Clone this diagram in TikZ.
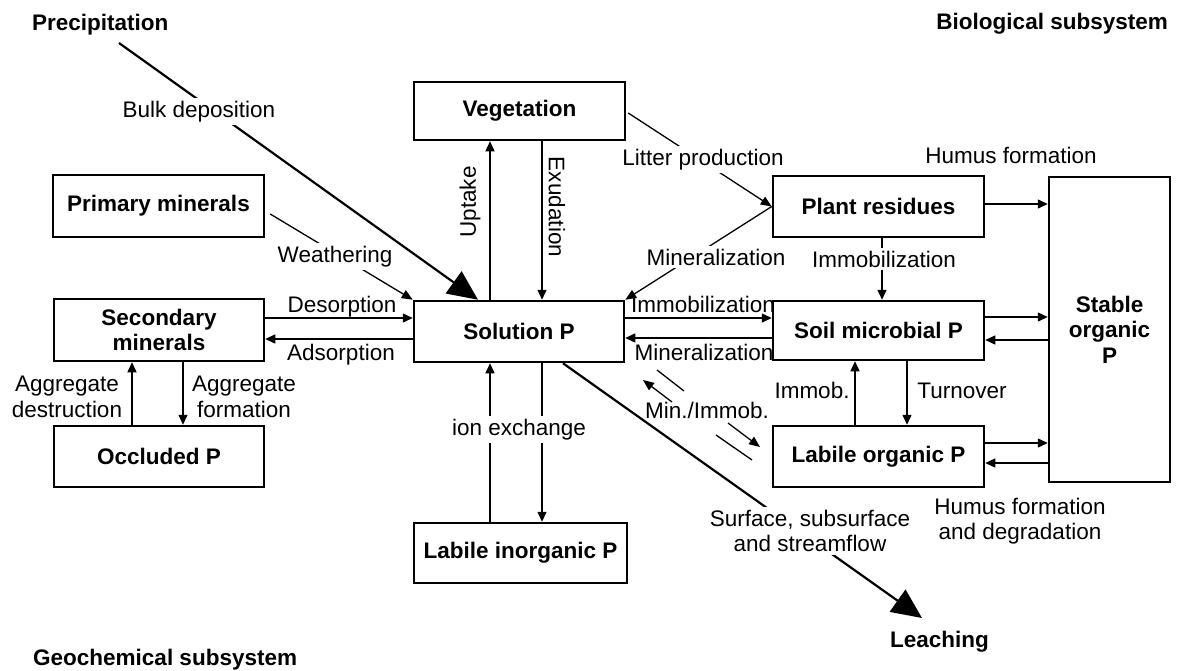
\documentclass[tikz,border=0pt]{standalone}
\usepackage{fontspec}
\setmainfont{Liberation Sans}
\usetikzlibrary{arrows.meta,calc}
\begin{document}
\begin{tikzpicture}[x=1pt,y=-1pt,
  box/.style={draw, line width=2.5pt, font=\bfseries, inner sep=0pt, align=center},
  arr/.style={line width=1.4pt, -{Triangle[length=10pt,width=9pt]}},
  bigarr/.style={line width=2.2pt, -{Triangle[length=30pt,width=27pt]}},
  thinline/.style={line width=1.3pt},
  thinarr/.style={line width=1.3pt, -{Triangle[length=11pt,width=9pt]}},
  lbl/.style={inner sep=0pt},
  wlbl/.style={fill=white, inner sep=3pt},
  ttl/.style={font=\bfseries, inner sep=0pt},
]
\fontsize{22.5}{25.5}\selectfont
\useasboundingbox[fill=white] (0,0) rectangle (1177,670);

% boxes
\node[box, minimum width=211pt, minimum height=58pt] (veg) at (519.5,111) {Vegetation};
\node[box, minimum width=211pt, minimum height=62pt] (prim) at (158.5,206) {Primary minerals};
\node[box, minimum width=210pt, minimum height=62pt] (sec) at (159,330) {Secondary\\minerals};
\node[box, minimum width=210pt, minimum height=61pt] (occ) at (159,456.5) {Occluded P};
\node[box, minimum width=210pt, minimum height=61pt] (sol) at (519,331.5) {Solution P};
\node[box, minimum width=213pt, minimum height=60pt] (linorg) at (520.5,553) {Labile inorganic P};
\node[box, minimum width=211pt, minimum height=61pt] (plant) at (878.5,206.5) {Plant residues};
\node[box, minimum width=211pt, minimum height=59pt] (micro) at (878.5,330.5) {Soil microbial P};
\node[box, minimum width=211pt, minimum height=61pt] (lorg) at (878.5,456.5) {Labile organic P};
\node[box, minimum width=121pt, minimum height=305pt] (stable) at (1109.5,329.5) {Stable\\organic\\P};

% vertical / horizontal arrows
\coordinate (u1) at ([xshift=-29pt]sol.north);
\draw[arr] (u1) -- (u1 |- veg.south);
\coordinate (e1) at ([xshift=23pt]sol.north);
\draw[arr] (e1 |- veg.south) -- (e1);
\coordinate (x1) at ([xshift=-29pt]sol.south);
\draw[arr] (x1 |- linorg.north) -- (x1);
\coordinate (x2) at ([xshift=23pt]sol.south);
\draw[arr] (x2) -- (x2 |- linorg.north);

\coordinate (d1) at ([yshift=12pt]sec.east);
\draw[arr] (d1) -- (d1 -| sol.west);
\coordinate (a1) at ([yshift=-9pt]sec.east);
\draw[arr] (a1 -| sol.west) -- (a1);

\coordinate (i1) at ([yshift=13.5pt]sol.east);
\draw[arr] (i1) -- (i1 -| micro.west);
\coordinate (m1) at ([yshift=-6.5pt]sol.east);
\draw[arr] (m1 -| micro.west) -- (m1);

\coordinate (h1) at ([yshift=2.5pt]plant.east);
\draw[arr] (h1) -- (h1 -| stable.west);
\coordinate (s1) at ([yshift=13.5pt]micro.east);
\draw[arr] (s1) -- (s1 -| stable.west);
\coordinate (s2) at ([yshift=-9.5pt]micro.east);
\draw[arr] (s2 -| stable.west) -- (s2);
\coordinate (s3) at ([yshift=13.5pt]lorg.east);
\draw[arr] (s3) -- (s3 -| stable.west);
\coordinate (s4) at ([yshift=-6.5pt]lorg.east);
\draw[arr] (s4 -| stable.west) -- (s4);

\coordinate (p1) at ([xshift=3.5pt]plant.south);
\draw[arr] (p1) -- (p1 |- micro.north);
\coordinate (im1) at ([xshift=-23.5pt]lorg.north);
\draw[arr] (im1) -- (im1 |- micro.south);
\coordinate (t1) at ([xshift=28.5pt]micro.south);
\draw[arr] (t1) -- (t1 |- lorg.north);

\coordinate (ag1) at ([xshift=-27pt]occ.north);
\draw[arr] (ag1) -- (ag1 |- sec.south);
\coordinate (ag2) at ([xshift=24pt]sec.south);
\draw[arr] (ag2) -- (ag2 |- occ.north);

% diagonal connectors
\draw[thinarr] ([xshift=5pt,yshift=-8pt]prim.east) -- (sol.north west);
\draw[thinarr] ([xshift=2pt,yshift=-2pt]veg.east) -- (plant.west);
\draw[thinarr] (plant.west) -- (sol.north east);

\coordinate (prec0) at (119,43);
\coordinate (bd) at ([xshift=-41pt]sol.north);
\draw[bigarr] (prec0) -- (bd);
\coordinate (lch0) at ([xshift=44pt]sol.south);
\coordinate (lch1) at (922,618);
\draw[bigarr] (lch0) -- (lch1);

\coordinate (ma1) at (657,370); \coordinate (ma2) at (684,391);
\coordinate (ma3) at (728,423); \coordinate (ma4) at (760,447);
\coordinate (mb1) at (752,460); \coordinate (mb2) at (716,435);
\coordinate (mb3) at (672,402); \coordinate (mb4) at (643,380);
\draw[thinline] (ma1) -- (ma2);
\draw[thinarr] (ma3) -- (ma4);
\draw[thinline] (mb1) -- (mb2);
\draw[thinarr] (mb3) -- (mb4);

% titles
\node[ttl, anchor=base west] (tprec) at (32,30) {Precipitation};
\node[ttl, anchor=base east] (tbio) at (1168,29) {Biological subsystem};
\node[ttl, anchor=base west] (tgeo) at (33,665) {Geochemical subsystem};
\node[ttl, anchor=base west] (tleach) at (890,647) {Leaching};

% labels
\node[wlbl, anchor=base] (lbulk) at (199,117) {Bulk deposition};
\node[wlbl, anchor=base] (lweath) at (335,262) {Weathering};
\node[lbl, rotate=90] (lupt) at (470,202) {Uptake};
\node[lbl, rotate=-90] (lexu) at (557,207) {Exudation};
\node[wlbl, anchor=base] (llit) at (703,165) {Litter production};
\node[wlbl, anchor=base] (lmin1) at (716,265) {Mineralization};
\node[wlbl, anchor=base] (limm1) at (884,267) {Immobilization};
\node[lbl, anchor=base] (lhum1) at (1011,163) {Humus formation};
\node[lbl, anchor=base] (ldes) at (342,312) {Desorption};
\node[lbl, anchor=base] (lads) at (341,360) {Adsorption};
\node[lbl, anchor=base] (limm2) at (703,312) {Immobilization};
\node[lbl, anchor=base] (lmin2) at (704,360) {Mineralization};
\node[lbl, anchor=base] (lmi) at (707,418) {Min./Immob.};
\node[lbl, anchor=base] (limm3) at (812,398) {Immob.};
\node[lbl, anchor=base] (lturn) at (962,398) {Turnover};
\node[wlbl, anchor=base] (lion) at (519,435) {ion exchange};
\node[lbl, align=center] (lagd) at (67,397) {Aggregate\\destruction};
\node[lbl, align=center] (lagf) at (244,397) {Aggregate\\formation};
\node[lbl, align=center] (lhum2) at (1020,521) {Humus formation\\and degradation};
\node[wlbl, align=center] (lsurf) at (810,531) {Surface, subsurface\\and streamflow};
\end{tikzpicture}
\end{document}
